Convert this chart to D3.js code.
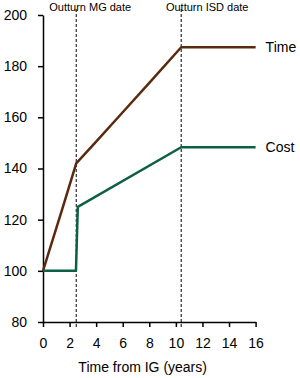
<!DOCTYPE html>
<html>
<head>
<meta charset="utf-8">
<script src="https://cdn.jsdelivr.net/npm/d3@7"></script>
<style>
  body { margin: 0; background: #fff; }
  text { font-family: "Liberation Sans", Arial, sans-serif; fill: #000; }
</style>
</head>
<body>
<div id="chart"></div>
<script>
// series values (years from IG, index)
var time_series_pts = [
  {x: 0, y: 100}, {x: 1.5, y: 125}, {x: 2.5, y: 142}, {x: 4, y: 150.5},
  {x: 6, y: 162}, {x: 8, y: 173.5}, {x: 10.4, y: 187.4}, {x: 16, y: 187.4}
];
var cost_series_pts = [
  {x: 0, y: 100}, {x: 2.48, y: 100}, {x: 2.62, y: 125}, {x: 10.4, y: 148.3},
  {x: 16, y: 148.3}
];
var x_ticks = [0, 2, 4, 6, 8, 10, 12, 14, 16];
var y_ticks = [80, 100, 120, 140, 160, 180, 200];
var markers = [
  {x: 2.5, label: "Outturn MG date", label_x: 0.47},
  {x: 10.4, label: "Outturn ISD date", label_x: 9.25}
];
var series_names = ["Time", "Cost"];

var margin = {top: 15, right: 45, bottom: 56, left: 43};

var x = d3.scaleLinear().domain([0, 16]).range([0, 212.6]);
var y = d3.scaleLinear().domain([80, 200]).range([307, 0]);

var chart = d3.select("#chart")
  .append("svg")
  .attr("width", 300)
  .attr("height", 378);

var main = chart.append("g")
  .attr("transform", "translate(" + margin.left + "," + margin.top + ")");

// dashed marker lines
main.selectAll(".marker")
  .data(markers)
  .enter().append("line")
    .attr("x1", function(d) { return x(d.x); })
    .attr("x2", function(d) { return x(d.x); })
    .attr("y1", y(200) - 6)
    .attr("y2", y(80) + 5)
    .attr("stroke", "#000")
    .attr("stroke-width", 1)
    .attr("stroke-dasharray", "3,2");

main.selectAll(".marker-label")
  .data(markers)
  .enter().append("text")
    .attr("x", function(d) { return x(d.label_x); })
    .attr("y", -4)
    .attr("font-size", "11px")
    .text(function(d) { return d.label; });

// x axis
var xAxis = main.append("g")
  .attr("transform", "translate(0," + y(80) + ")")
  .call(d3.axisBottom(x).tickValues(x_ticks).tickSize(5).tickPadding(11).tickSizeOuter(0));
xAxis.select(".domain").attr("stroke-width", 1.5);
xAxis.selectAll(".tick line").attr("stroke-width", 1.5);
xAxis.selectAll("text").attr("font-size", "14px").attr("font-family", "Liberation Sans, Arial, sans-serif").attr("fill", "#000");

// y axis
var yAxis = main.append("g")
  .call(d3.axisLeft(y).tickValues(y_ticks).tickSize(5).tickPadding(11).tickSizeOuter(0));
yAxis.select(".domain").attr("stroke-width", 1.5);
yAxis.selectAll(".tick line").attr("stroke-width", 1.5);
yAxis.selectAll("text").attr("font-size", "14px").attr("font-family", "Liberation Sans, Arial, sans-serif").attr("fill", "#000");

// x axis title
main.append("text")
  .attr("x", x(7.5))
  .attr("y", y(80) + 50)
  .attr("text-anchor", "middle")
  .attr("font-size", "14px")
  .text("Time from IG (years)");

var line = d3.line()
  .x(function(d) { return x(d.x); })
  .y(function(d) { return y(d.y); });

var colors = ["#5a2a0e", "#0d5f45"];
var all = [time_series_pts, cost_series_pts];

main.selectAll(".series")
  .data(all)
  .enter().append("path")
    .attr("fill", "none")
    .attr("stroke", function(d, i) { return colors[i]; })
    .attr("stroke-width", 2.5)
    .attr("stroke-linejoin", "round")
    .attr("d", line);

main.selectAll(".series-label")
  .data(all)
  .enter().append("text")
    .attr("x", x(16) + 10)
    .attr("y", function(d) { return y(d[d.length - 1].y); })
    .attr("dy", "0.35em")
    .attr("font-size", "14px")
    .text(function(d, i) { return series_names[i]; });
</script>
</body>
</html>
